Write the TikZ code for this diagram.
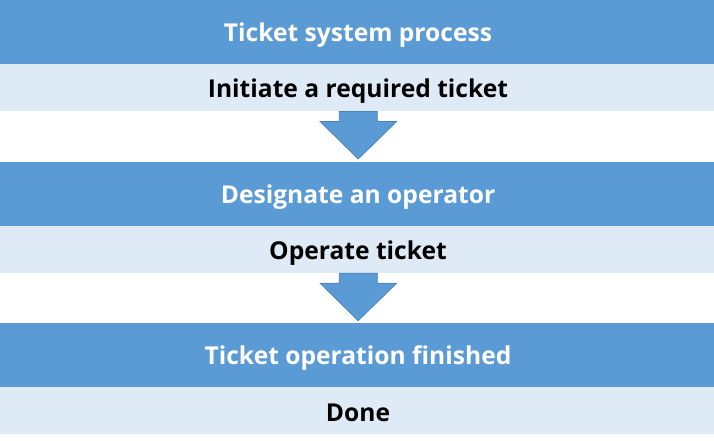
\documentclass[tikz,border=0pt]{standalone}
\usepackage{fontspec}
\setmainfont{Open Sans}
\definecolor{bandblue}{HTML}{5B9BD5}
\definecolor{bandlight}{HTML}{DEEBF7}
\definecolor{arrowedge}{HTML}{4A84BC}
\begin{document}
\begin{tikzpicture}[x=1pt,y=-1pt,
  darkband/.style={fill=bandblue,draw=none},
  lightband/.style={fill=bandlight,draw=none},
  headtext/.style={anchor=base,text=white,font=\fontsize{24.6}{30}\selectfont\bfseries,inner sep=0pt},
  subtext/.style={anchor=base,text=black,font=\fontsize{24.6}{30}\selectfont\bfseries,inner sep=0pt},
  downarrow/.style={fill=bandblue,draw=arrowedge,line width=0.7pt,line join=miter}]
\useasboundingbox (0,0) rectangle (714,441);
\fill[white] (0,0) rectangle (714,441);
% bands
\foreach \t/\n in {0/1,161.7/2,323.3/3}{
  \fill[darkband] (0,\t) rectangle (714,\t+64);
  \fill[lightband] (0,\t+64) rectangle (714,\t+111);
}
% arrows
\foreach \t in {0,161.7}{
  \draw[downarrow] (339.3,\t+111.5) -- (377.3,\t+111.5) -- (377.3,\t+121.5) -- (396.7,\t+121.5)
     -- (358.2,\t+159) -- (320,\t+121.5) -- (339.3,\t+121.5) -- cycle;
}
% texts
\node[headtext] (h1) at (358,41.7) {Ticket system process};
\node[subtext] (s1) at (358,97.5) {Initiate a required ticket};
\node[headtext] (h2) at (358,203.3) {Designate an operator};
\node[subtext] (s2) at (358,259.2) {Operate ticket};
\node[headtext] (h3) at (358,364.9) {Ticket operation finished};
\node[subtext] (s3) at (358,421) {Done};
\end{tikzpicture}
\end{document}
